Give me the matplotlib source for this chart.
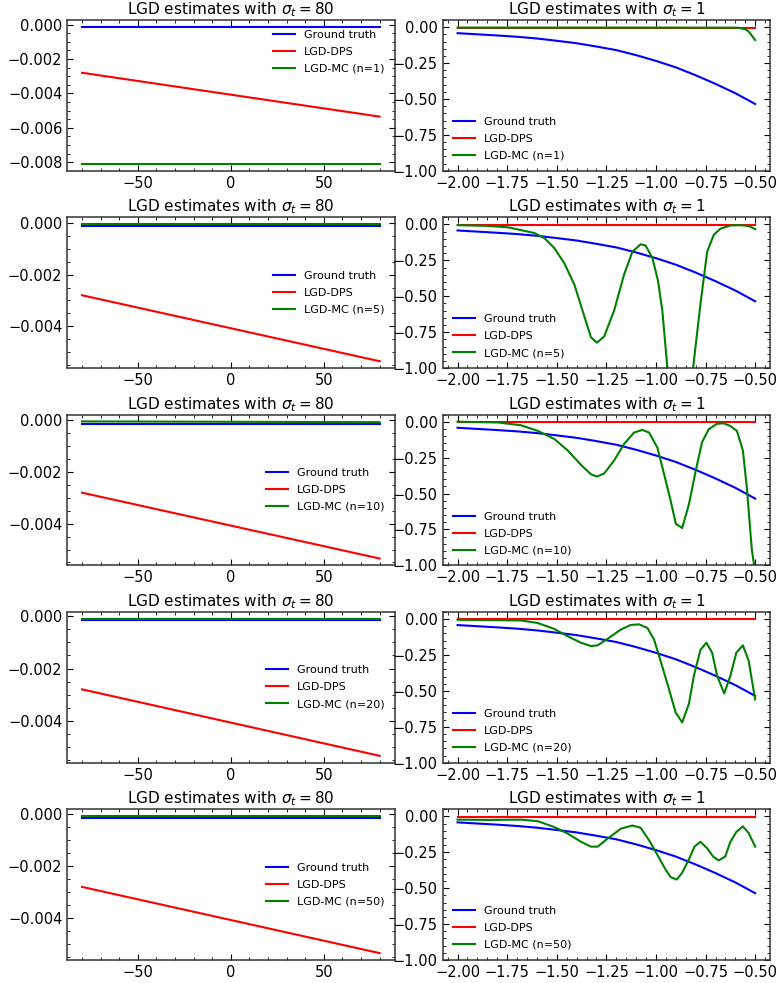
import numpy as np
import matplotlib
matplotlib.use("Agg")
import matplotlib.pyplot as plt

# ---------------- data ----------------
n_values = [1, 5, 10, 20, 50]

# left panels (sigma_t = 80)
x_left = [-80, 80]
gt_left = [-0.00013, -0.00013]
dps_left = [-0.0028, -0.00535]
mc_left = {
    1: [-0.0081, -0.0081],
    5: [-0.00005, -0.00005],
    10: [-0.00004, -0.00007],
    20: [-0.00009, -0.00009],
    50: [-0.00007, -0.00007],
}

# right panels (sigma_t = 1)
x_right = [-2.0, -1.9, -1.8, -1.7, -1.6, -1.5, -1.4, -1.3, -1.2, -1.1,
           -1.0, -0.9, -0.8, -0.7, -0.6, -0.5]
gt_right = [-0.042, -0.050, -0.058, -0.067, -0.079, -0.095, -0.112, -0.135,
            -0.160, -0.195, -0.235, -0.280, -0.335, -0.395, -0.460, -0.535]
dps_right = [-0.003] * len(x_right)

mc_right_x = {
    1: [-2.0, -1.5, -1.0, -0.6, -0.575, -0.55, -0.533, -0.5],
    5: [-2.0, -1.846, -1.746, -1.679, -1.612, -1.562, -1.512, -1.462, -1.411,
        -1.370, -1.328, -1.298, -1.261, -1.211, -1.161, -1.119, -1.077, -1.052,
        -1.018, -0.990, -0.968, -0.943, -0.90, -0.85, -0.813, -0.776, -0.742,
        -0.709, -0.676, -0.625, -0.575, -0.533, -0.5],
    10: [-2.0, -1.796, -1.679, -1.595, -1.512, -1.445, -1.378, -1.328, -1.298,
         -1.261, -1.211, -1.161, -1.110, -1.069, -1.035, -0.993, -0.960, -0.926,
         -0.900, -0.868, -0.834, -0.801, -0.768, -0.734, -0.692, -0.659, -0.625,
         -0.592, -0.562, -0.542, -0.517, -0.5],
    20: [-2.0, -1.679, -1.595, -1.512, -1.445, -1.378, -1.328, -1.294, -1.244,
         -1.177, -1.127, -1.085, -1.043, -1.010, -0.977, -0.935, -0.901, -0.868,
         -0.834, -0.809, -0.776, -0.746, -0.717, -0.692, -0.656, -0.625, -0.595,
         -0.562, -0.533, -0.512, -0.5],
    50: [-2.0, -1.846, -1.679, -1.595, -1.512, -1.445, -1.378, -1.328, -1.294,
         -1.244, -1.177, -1.119, -1.077, -1.035, -0.993, -0.952, -0.926, -0.896,
         -0.868, -0.834, -0.806, -0.776, -0.742, -0.712, -0.684, -0.651, -0.625,
         -0.595, -0.562, -0.533, -0.5],
}
mc_right_y = {
    1: [-0.003, -0.003, -0.003, -0.004, -0.006, -0.015, -0.030, -0.090],
    5: [-0.005, -0.010, -0.020, -0.040, -0.060, -0.096, -0.165, -0.270, -0.420,
        -0.600, -0.785, -0.823, -0.780, -0.600, -0.350, -0.190, -0.138, -0.147,
        -0.234, -0.390, -0.600, -0.990, -1.600, -1.500, -1.000, -0.555, -0.190,
        -0.073, -0.030, -0.007, -0.005, -0.011, -0.032],
    10: [0.0, -0.005, -0.025, -0.064, -0.120, -0.200, -0.300, -0.366, -0.382,
         -0.360, -0.270, -0.155, -0.075, -0.057, -0.075, -0.180, -0.360, -0.550,
         -0.710, -0.740, -0.575, -0.350, -0.143, -0.052, -0.014, -0.011, -0.030,
         -0.064, -0.200, -0.460, -0.890, -1.050],
    20: [-0.005, -0.010, -0.028, -0.069, -0.120, -0.165, -0.188, -0.183, -0.138,
         -0.073, -0.041, -0.037, -0.062, -0.142, -0.290, -0.486, -0.650, -0.720,
         -0.590, -0.395, -0.215, -0.165, -0.234, -0.395, -0.518, -0.395, -0.234,
         -0.183, -0.290, -0.463, -0.560],
    50: [-0.023, -0.025, -0.023, -0.034, -0.075, -0.120, -0.177, -0.211, -0.211,
         -0.155, -0.086, -0.064, -0.080, -0.166, -0.268, -0.370, -0.423, -0.440,
         -0.393, -0.300, -0.211, -0.177, -0.223, -0.280, -0.307, -0.280, -0.177,
         -0.109, -0.070, -0.116, -0.211],
}

# ---------------- style ----------------
plt.rcParams.update({
    "font.family": ["DejaVu Sans"],
    "font.size": 10,
    "xtick.labelsize": 10.5,
    "ytick.labelsize": 10.5,
    "xtick.direction": "in",
    "ytick.direction": "in",
    "xtick.top": True,
    "ytick.right": True,
    "xtick.minor.visible": True,
    "ytick.minor.visible": True,
    "xtick.major.size": 4,
    "ytick.major.size": 4,
    "xtick.minor.size": 2,
    "ytick.minor.size": 2,
    "axes.linewidth": 1.1,
    "axes.edgecolor": "#333333",
})

fig, axes = plt.subplots(5, 2, figsize=(7.81, 9.83), dpi=100)
fig.subplots_adjust(left=0.086, right=0.986, top=0.9797, bottom=0.0234,
                    wspace=0.147, hspace=0.308)

leg_kw = dict(frameon=False, fontsize=8, handlelength=2.0,
              labelspacing=0.62, handletextpad=0.8)

for i, n in enumerate(n_values):
    axl = axes[i, 0]
    axl.plot(x_left, gt_left, color="blue", lw=1.5, label="Ground truth")
    axl.plot(x_left, dps_left, color="red", lw=1.5, label="LGD-DPS")
    axl.plot(x_left, mc_left[n], color="green", lw=1.5, label=f"LGD-MC (n={n})")
    axl.set_title(r"LGD estimates with $\sigma_t = 80$", fontsize=11, pad=4)
    axl.legend(loc="upper right" if i == 0 else "center right", **leg_kw)

    axr = axes[i, 1]
    axr.plot(x_right, gt_right, color="blue", lw=1.5, label="Ground truth")
    axr.plot(x_right, dps_right, color="red", lw=1.5, label="LGD-DPS")
    axr.plot(mc_right_x[n], mc_right_y[n], color="green", lw=1.5,
             label=f"LGD-MC (n={n})")
    axr.set_ylim(-1.0, 0.05)
    axr.set_title(r"LGD estimates with $\sigma_t = 1$", fontsize=11, pad=4)
    axr.legend(loc="lower left", **leg_kw)

fig.savefig("out.png", dpi=100)
